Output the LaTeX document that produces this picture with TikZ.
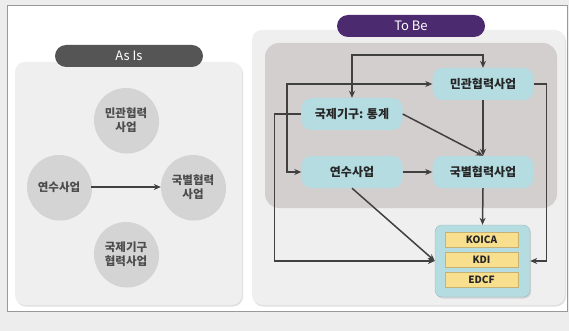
\documentclass[tikz,border=0pt]{standalone}
\usepackage{fontspec}
\setmainfont{Noto Sans CJK KR}
\usetikzlibrary{positioning,arrows.meta,shadows}

\definecolor{asisgrey}{HTML}{555555}
\definecolor{tobepurple}{HTML}{4B2A70}
\definecolor{panelgrey}{HTML}{EFEFEF}
\definecolor{innergrey}{HTML}{D3CFCF}
\definecolor{circgrey}{HTML}{D4D4D4}
\definecolor{nodeteal}{HTML}{B5DCE0}
\definecolor{baryellow}{HTML}{F8DF8E}
\definecolor{linegrey}{HTML}{404040}

\tikzset{
  softshadow/.style={drop shadow={opacity=0.25,shadow xshift=1pt,shadow yshift=-1.5pt}},
  panel/.style={fill=panelgrey, rounded corners=10pt, softshadow},
  pill/.style={fill=#1, rounded corners=11pt, minimum width=148pt, minimum height=22pt,
    text=white, font=\fontsize{13}{15}\selectfont},
  circ/.style={circle, fill=circgrey, minimum size=64pt, inner sep=0pt, align=center,
    softshadow, font=\bfseries\fontsize{11.5}{14}\selectfont, text=black!70},
  proc/.style={fill=nodeteal, rounded corners=10pt, minimum width=101pt, minimum height=32pt,
    inner sep=0pt, font=\bfseries\fontsize{12}{14}\selectfont, text=black!85},
  org/.style={fill=baryellow, draw=baryellow!80!black, line width=0.4pt, minimum width=73pt,
    minimum height=15pt, inner sep=0pt, font=\bfseries\fontsize{10}{12}\selectfont, text=black!85},
  conn/.style={draw=linegrey, line width=1.5pt, -{Stealth[length=7pt,width=6pt]}},
  bothconn/.style={draw=linegrey, line width=1.5pt,
    {Stealth[length=7pt,width=6pt]}-{Stealth[length=7pt,width=6pt]}},
}

\begin{document}
\begin{tikzpicture}[x=1pt,y=-1pt]
  \useasboundingbox (0,0) rectangle (569,331);
  % page and frame
  \fill[black!7] (0,0) rectangle (569,331);
  \draw[fill=white, draw=black!40, line width=0.8pt] (7,5) rectangle (567,311);

  % As Is
  \path[panel] (15,62) rectangle (242,305);
  \node[pill=asisgrey] (asis) at (129,56) {As Is};
  \node[circ] (privA) at (126,120) {민관협력\\사업};
  \node[circ] (trainA) at (59,187) {연수사업};
  \node[circ] (natlA) at (193,187) {국별협력\\사업};
  \node[circ] (intlA) at (126,254) {국제기구\\협력사업};
  \draw[conn] (trainA) -- (natlA);

  % To Be
  \path[panel] (252,30) rectangle (565,305);
  \node[pill=tobepurple] (tobe) at (411,26) {To Be};
  \fill[innergrey, rounded corners=14pt] (265,43) rectangle (557,208);

  \node[proc] (priv) at (483,84) {민관협력사업};
  \node[proc] (intl) at (352,114) {국제기구: 통계};
  \node[proc] (train) at (352,172) {연수사업};
  \node[proc] (natl) at (483,172) {국별협력사업};

  \node[fill=nodeteal, draw=nodeteal!85!black, line width=0.4pt, rounded corners=7pt,
    minimum width=95pt, minimum height=72pt, softshadow] (box) at (482.5,261) {};
  \node[org] (koica) at (481.5,240) {KOICA};
  \node[org] (kdi) at (481.5,259.5) {KDI};
  \node[org] (edcf) at (481.5,279.5) {EDCF};

  \coordinate (top) at (352,55);
  \coordinate (lefttop) at (287,84);
  \draw[bothconn] (intl.north) -- (top) -| (priv.north);
  \draw[bothconn] (train.west) -| (lefttop) -- (priv.west);
  \draw[conn] (intl.west) -- ++(-27,0) |- (box.west);
  \draw[conn] (priv.east) -- ++(13,0) |- (box.east);
  \draw[conn] (intl.east) -- (natl.north);
  \draw[conn] (priv.south) -- (natl.north);
  \draw[conn] (train.east) -- (natl.west);
  \draw[conn] (train.south) -- (box.west);
  \draw[conn] (natl.south) -- (box.north);
\end{tikzpicture}
\end{document}
